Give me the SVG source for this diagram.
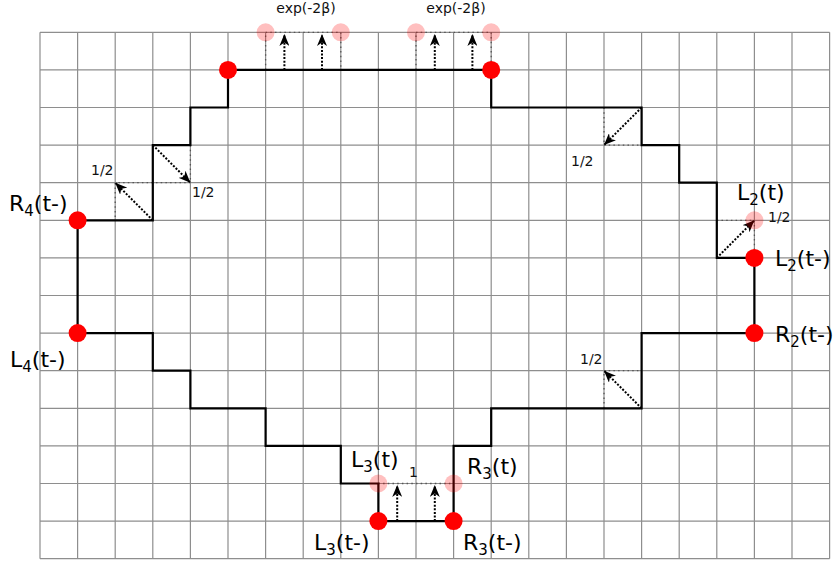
<svg xmlns="http://www.w3.org/2000/svg" width="835" height="563" viewBox="0 0 835 563">
<style>
.grid{fill:none;stroke:#8e8e8e;stroke-width:1.2}
.guide{fill:none;stroke:#555;stroke-width:1.3;stroke-dasharray:1.5 3.2}
.wall{fill:none;stroke:#000;stroke-width:2.2;stroke-linejoin:miter}
.arr{fill:none;stroke:#000;stroke-width:2;stroke-dasharray:2 1.6;marker-end:url(#head)}
.red{fill:#ff0000}
.pink{fill:#ff0000;fill-opacity:0.25}
.big{font-family:"DejaVu Sans","Liberation Sans",sans-serif;font-size:22px;fill:#000}
.small{font-family:"DejaVu Sans","Liberation Sans",sans-serif;font-size:14px;fill:#111}
</style>
<defs>
<marker id="head" viewBox="0 0 12 10" refX="12" refY="5" markerWidth="12" markerHeight="10" markerUnits="userSpaceOnUse" orient="auto">
<path d="M0,0 L12,5 L0,10 L3.5,5 Z" fill="#000"/>
</marker>
</defs>
<rect width="835" height="563" fill="#fff"/>
<g id="grid">
<path class="grid" d="M40,32.3V558.7M77.6,32.3V558.7M115.2,32.3V558.7M152.8,32.3V558.7M190.4,32.3V558.7M228,32.3V558.7M265.6,32.3V558.7M303.2,32.3V558.7M340.8,32.3V558.7M378.4,32.3V558.7M416,32.3V558.7M453.6,32.3V558.7M491.2,32.3V558.7M528.8,32.3V558.7M566.4,32.3V558.7M604,32.3V558.7M641.6,32.3V558.7M679.2,32.3V558.7M716.8,32.3V558.7M754.4,32.3V558.7M792,32.3V558.7M829.6,32.3V558.7
M40,32.3H829.6M40,69.9H829.6M40,107.5H829.6M40,145.1H829.6M40,182.7H829.6M40,220.3H829.6M40,257.9H829.6M40,295.5H829.6M40,333.1H829.6M40,370.7H829.6M40,408.3H829.6M40,445.9H829.6M40,483.5H829.6M40,521.1H829.6M40,558.7H829.6"/>
</g>
<g id="connectors">
<path class="guide" d="M265.6,69.9V32.3H340.8V69.9M416,69.9V32.3H491.2V69.9M190.4,145.1V182.7H115.2V220.3M604,107.5V145.1H641.6M716.8,220.3H754.4V257.9M604,408.3V370.7H641.6M378.4,483.5H453.6"/>
<path id="boundary" class="wall" d="M228,69.9H491.2V107.5H641.6V145.1H679.2V182.7H716.8V257.9H754.4V333.1H641.6V408.3H491.2V445.9H453.6V521.1H378.4V483.5H340.8V445.9H265.6V408.3H190.4V370.7H152.8V333.1H77.6V220.3H152.8V145.1H190.4V107.5H228Z"/>
<path class="arr" d="M284.4,69.9V34"/>
<path class="arr" d="M322,69.9V34"/>
<path class="arr" d="M434.8,69.9V34"/>
<path class="arr" d="M472.4,69.9V34"/>
<path class="arr" d="M152.8,145.1L190.4,182.7"/>
<path class="arr" d="M152.8,220.3L115.2,182.7"/>
<path class="arr" d="M641.6,107.5L604,145.1"/>
<path class="arr" d="M716.8,257.9L754.4,220.3"/>
<path class="arr" d="M641.6,408.3L604,370.7"/>
<path class="arr" d="M397.2,521.1V485"/>
<path class="arr" d="M434.8,521.1V485"/>
</g>
<g id="rates">
<text class="small" x="306" y="13" text-anchor="middle">exp(-2β)</text>
<text class="small" x="456" y="13" text-anchor="middle">exp(-2β)</text>
<text class="small" x="91" y="175">1/2</text>
<text class="small" x="192" y="197">1/2</text>
<text class="small" x="571" y="166">1/2</text>
<text class="small" x="768" y="222">1/2</text>
<text class="small" x="580" y="364">1/2</text>
<text class="small" x="409" y="477">1</text>
</g>
<g id="top-pink">
<circle class="pink" cx="265.6" cy="32.3" r="9"/>
<circle class="pink" cx="340.8" cy="32.3" r="9"/>
<circle class="pink" cx="416" cy="32.3" r="9"/>
<circle class="pink" cx="491.2" cy="32.3" r="9"/>
</g>
<g id="top-left"><circle class="red" cx="228" cy="69.9" r="9"/></g>
<g id="top-right"><circle class="red" cx="491.2" cy="69.9" r="9"/></g>
<g id="R4"><circle class="red" cx="77.6" cy="220.3" r="9"/>
<text class="big" x="9" y="211">R<tspan font-size="15" dy="5">4</tspan><tspan dy="-5">(t-)</tspan></text></g>
<g id="L4"><circle class="red" cx="77.6" cy="333.1" r="9"/>
<text class="big" x="10" y="367">L<tspan font-size="15" dy="5">4</tspan><tspan dy="-5">(t-)</tspan></text></g>
<g id="L2t"><circle class="pink" cx="754.4" cy="220.3" r="9"/>
<text class="big" x="737" y="200">L<tspan font-size="15" dy="5">2</tspan><tspan dy="-5">(t)</tspan></text></g>
<g id="L2"><circle class="red" cx="754.4" cy="257.9" r="9"/>
<text class="big" x="775" y="266">L<tspan font-size="15" dy="5">2</tspan><tspan dy="-5">(t-)</tspan></text></g>
<g id="R2"><circle class="red" cx="754.4" cy="333.1" r="9"/>
<text class="big" x="775" y="342">R<tspan font-size="15" dy="5">2</tspan><tspan dy="-5">(t-)</tspan></text></g>
<g id="L3t"><circle class="pink" cx="378.4" cy="483.5" r="9"/>
<text class="big" x="351" y="467">L<tspan font-size="15" dy="5">3</tspan><tspan dy="-5">(t)</tspan></text></g>
<g id="R3t"><circle class="pink" cx="453.6" cy="483.5" r="9"/>
<text class="big" x="467" y="474">R<tspan font-size="15" dy="5">3</tspan><tspan dy="-5">(t)</tspan></text></g>
<g id="L3"><circle class="red" cx="378.4" cy="521.1" r="9"/>
<text class="big" x="314" y="550">L<tspan font-size="15" dy="5">3</tspan><tspan dy="-5">(t-)</tspan></text></g>
<g id="R3"><circle class="red" cx="453.6" cy="521.1" r="9"/>
<text class="big" x="463" y="550">R<tspan font-size="15" dy="5">3</tspan><tspan dy="-5">(t-)</tspan></text></g>
</svg>
